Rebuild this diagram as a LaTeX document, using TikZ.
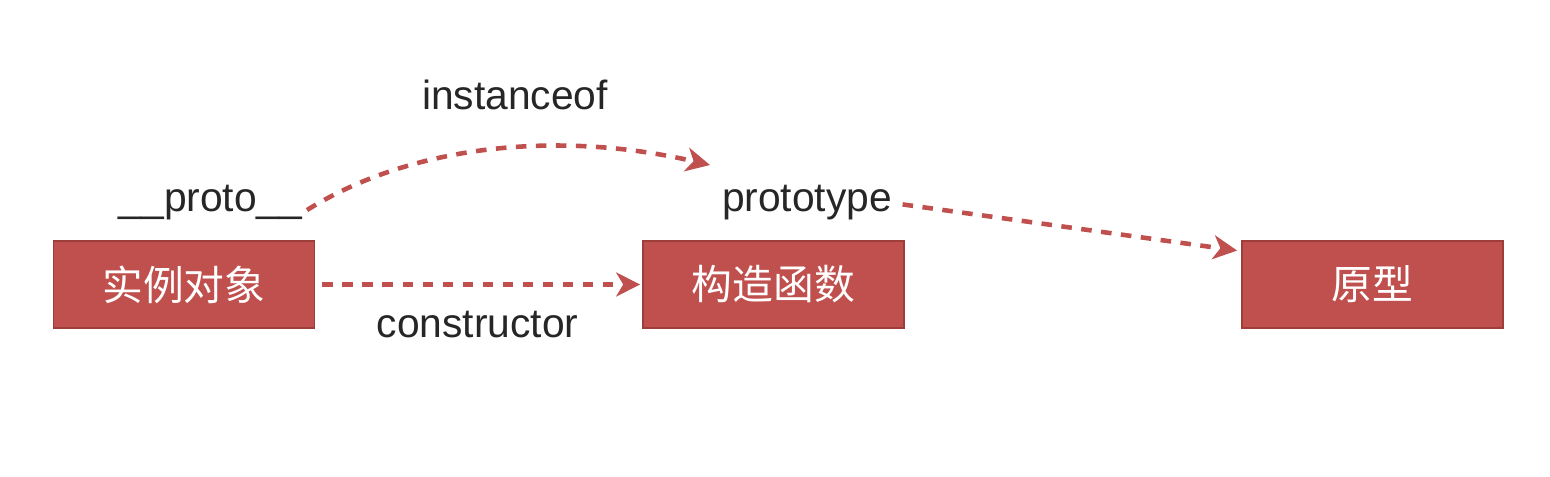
\documentclass[tikz,border=0pt]{standalone}
\usepackage{fontspec}
\setmainfont{Liberation Sans}
\newfontfamily\cjk{Noto Sans CJK SC}
\usetikzlibrary{arrows.meta, positioning}
\definecolor{boxred}{HTML}{C0504D}
\definecolor{boxline}{HTML}{9E3E3B}
\begin{document}
\begin{tikzpicture}[
  every node/.style={font=\fontsize{11.6}{14}\selectfont, inner sep=0pt},
  redbox/.style={rectangle, fill=boxred, draw=boxline, line width=0.5pt,
    minimum width=2.61cm, minimum height=0.87cm, text=white, font=\fontsize{11.6}{14}\selectfont\cjk},
  link/.style={boxred, line width=1.3pt, dash pattern=on 3pt off 2.7pt,
    -{Stealth[length=6.8pt, width=6.8pt, inset=2pt]}},
  label/.style={anchor=base, text=black!85}]
\useasboundingbox (0,0) rectangle (15.5,4.76);

% boxes
\node[redbox] (inst) at (1.84,1.915) {实例对象};
\node[redbox] (ctor) at (7.735,1.915) {构造函数};
\node[redbox] (proto) at (13.725,1.915) {原型};

% labels
\node[label] (plink) at (2.105,2.64) {\_\_proto\_\_};
\node[label] (ptype) at (8.07,2.64) {prototype};
\node[label] (iof) at (5.15,3.66) {instanceof};
\node[label] (cons) at (4.775,1.39) {constructor};
\coordinate (iofend) at (7.10,3.11);

% arrows
\draw[link, shorten <=0.07cm, shorten >=0.02cm] (inst) -- (ctor);
\draw[link] ([shift={(0.04,-0.07)}]plink.east) .. controls +(32:1.2) and +(167:1.6) .. (iofend);
\draw[link, shorten <=0.1cm, shorten >=0.04cm] (ptype.east) -- ([yshift=-0.11cm]proto.north west);

\end{tikzpicture}
\end{document}
